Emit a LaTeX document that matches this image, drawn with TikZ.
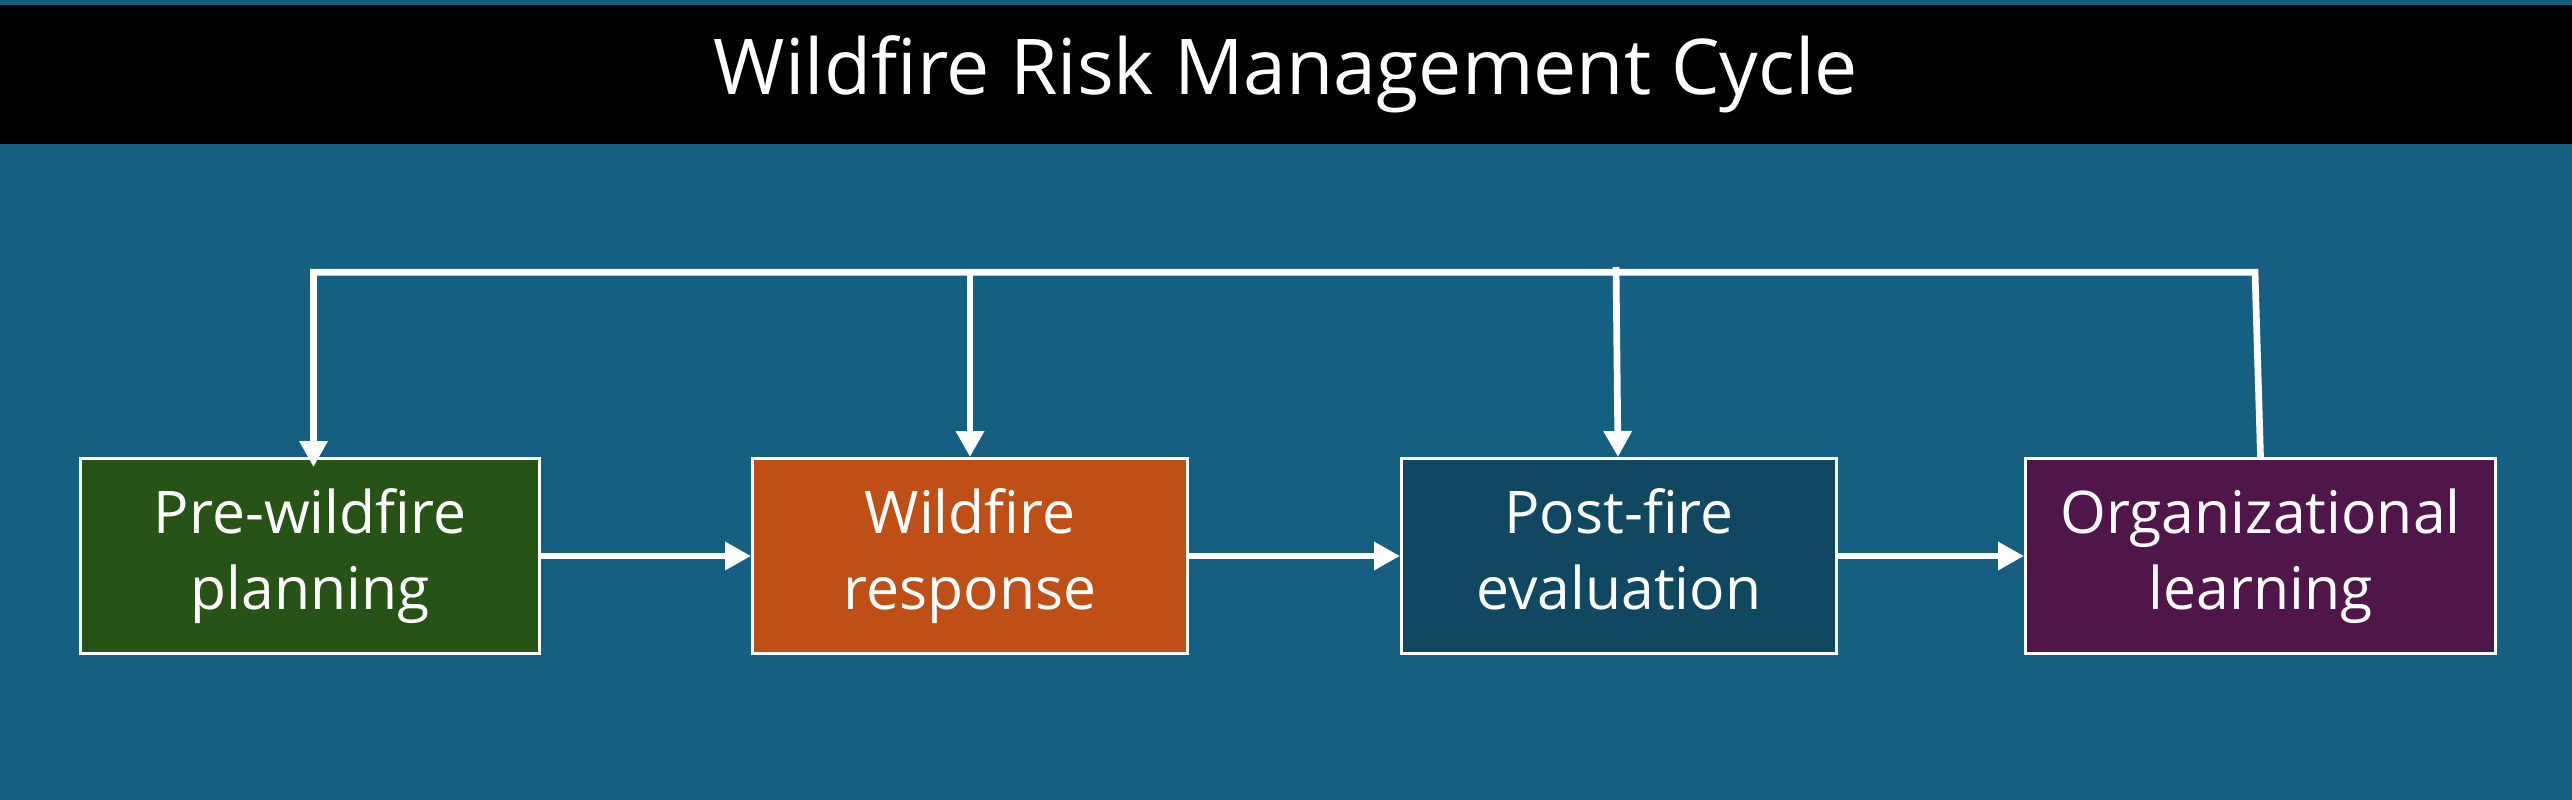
\documentclass[tikz,border=0pt]{standalone}
\usepackage{fontspec}
\setmainfont{Open Sans}
\usetikzlibrary{arrows.meta}
\definecolor{bgblue}{HTML}{156082}
\definecolor{boxgreen}{HTML}{275317}
\definecolor{boxorange}{HTML}{C04F15}
\definecolor{boxteal}{HTML}{104862}
\definecolor{boxpurple}{HTML}{501549}
\tikzset{
  stage/.style={draw=white, line width=2.7pt, minimum height=195.3pt, inner sep=0pt,
    text=white, align=center, font=\fontsize{58.8}{76}\selectfont},
  link/.style={draw=white, line width=6.7pt, line join=miter},
  arr/.style={link, -{Triangle[length=26pt,width=27pt]}},
}
\begin{document}
\begin{tikzpicture}[x=1pt,y=-1pt]
\useasboundingbox (0,0) rectangle (2572,800);
\fill[bgblue] (0,0) rectangle (2572,800);
\fill[black] (0,5) rectangle (2572,144);
\node[text=white, font=\fontsize{77}{90}\selectfont, inner sep=0pt] (title) at (1286,74) {Wildfire Risk Management Cycle};

\node[stage, fill=boxgreen, minimum width=459.3pt] (b1) at (310,556) {\strut Pre-wildfire\\\strut planning};
\node[stage, fill=boxorange, minimum width=435.3pt] (b2) at (970,556) {\strut Wildfire\\\strut response};
\node[stage, fill=boxteal, minimum width=435.3pt] (b3) at (1619,556) {\strut Post-fire\\\strut evaluation};
\node[stage, fill=boxpurple, minimum width=470.3pt] (b4) at (2260.5,556) {\strut Organizational\\\strut learning};

\coordinate (t1) at (313.5,272.3);
\coordinate (t2) at (970,272.3);
\coordinate (t3) at (1616,267);
\coordinate (t4) at (2255,272.3);

\draw[arr] (b4.north) -- (t4) -- (t1) -- ([yshift=-10pt]t1 |- b1.north);
\draw[arr] (t2) -- (t2 |- b2.north);
\draw[arr] (t3) -- ([xshift=2pt]t3 |- b3.north);

\draw[arr] (b1.east) -- (b2.west);
\draw[arr] (b2.east) -- (b3.west);
\draw[arr] (b3.east) -- (b4.west);
\end{tikzpicture}
\end{document}
